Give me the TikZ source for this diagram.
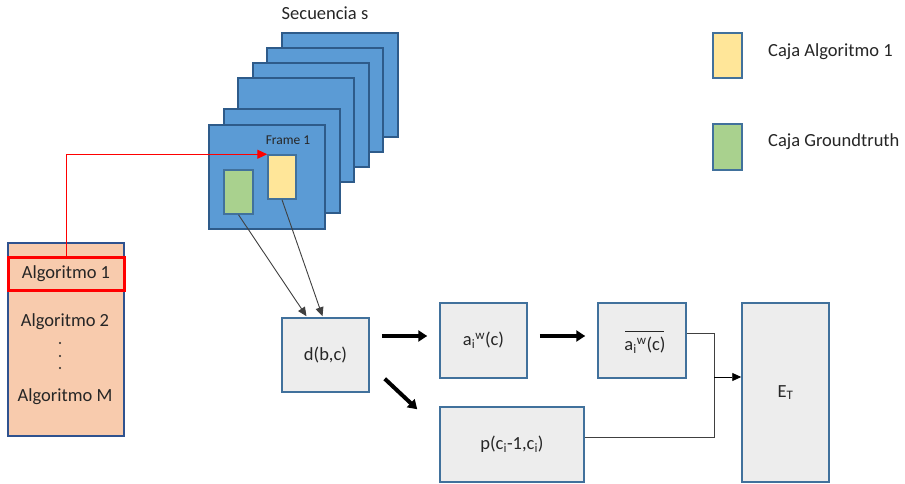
\documentclass[tikz,border=0pt]{standalone}
\usepackage{fontspec}
\setmainfont{Carlito}
\usetikzlibrary{arrows.meta,calc}
\definecolor{frameblue}{HTML}{5B9BD5}
\definecolor{frameedge}{HTML}{2E5B8A}
\definecolor{boxgray}{HTML}{EDEDED}
\definecolor{boxedge}{HTML}{41719C}
\definecolor{salmon}{HTML}{F8CBAD}
\definecolor{salmonedge}{HTML}{2F528F}
\definecolor{yel}{HTML}{FFE699}
\definecolor{grn}{HTML}{A9D18E}
\definecolor{txt}{HTML}{262626}
\tikzset{
  txtfont/.style={font=\fontsize{18.5}{21}\selectfont, text=txt},
  framebox/.style={draw=frameedge, fill=frameblue, line width=1.5pt, minimum width=116, minimum height=104, inner sep=0},
  graybox/.style={draw=boxedge, fill=boxgray, line width=1.5pt, inner sep=0, txtfont},
  smallbox/.style={draw=boxedge, line width=1.5pt, inner sep=0},
  bigarrow/.style={line width=4pt, -{Triangle[length=9pt,width=11pt]}, shorten <=12pt, shorten >=12pt},
  thinarrow/.style={draw=black!75, line width=0.9pt, -{Triangle[length=9pt,width=8pt]}},
  joinline/.style={draw=black!75, line width=0.9pt},
  listdot/.style={circle, fill=txt, inner sep=0, minimum size=2.2pt}
}
\begin{document}
\begin{tikzpicture}[x=1pt,y=-1pt]
\useasboundingbox[fill=white] (0,0) rectangle (905,484);

% frames (back to front)
\node[framebox] (f6) at (340,85) {};
\node[framebox] (f5) at (325,100) {};
\node[framebox] (f4) at (311,115) {};
\node[framebox] (f3) at (296,130) {};
\node[framebox] (f2) at (282,161) {};
\node[framebox] (f1) at (267,177) {};
\node[txtfont] (seq) at (325,13) {Secuencia s};
\node[font=\fontsize{13.5}{15}\selectfont, text=txt] (fr1) at (288,140) {Frame 1};
\node[smallbox, fill=yel, minimum width=28, minimum height=44] (ybox) at (282,177) {};
\node[smallbox, fill=grn, minimum width=29, minimum height=44] (gbox) at (238.5,192) {};

% left list
\node[draw=salmonedge, fill=salmon, line width=1.3pt, minimum width=116, minimum height=193, inner sep=0] (list) at (66,339.5) {};
\node[draw=red, line width=3pt, minimum width=116, minimum height=33, inner sep=0, txtfont] (alg1) at (66,273.5) {Algoritmo 1};
\node[txtfont] (alg2) at (65,322) {Algoritmo 2};
\node[listdot] (d1) at (60,343) {};
\node[listdot] (d2) at (60,356) {};
\node[listdot] (d3) at (60,368) {};
\node[txtfont] (algM) at (65,397) {Algoritmo M};

% red connector
\draw[red, line width=1pt, -{Triangle[length=10pt,width=9pt]}] (alg1.north) |- (ybox.north west);

% legend
\node[smallbox, fill=yel, minimum width=29, minimum height=45] (ly) at (727.5,55.5) {};
\node[txtfont, anchor=west, inner sep=0] (lyt) at (768,52) {Caja Algoritmo 1};
\node[smallbox, fill=grn, minimum width=29, minimum height=46] (lg) at (727.5,147) {};
\node[txtfont, anchor=west, inner sep=0] (lgt) at (768,142) {Caja Groundtruth};

% process boxes
\node[graybox, minimum width=87, minimum height=74] (d) at (325.5,355) {d(b,c)};
\node[graybox, minimum width=87, minimum height=75] (a) at (483.5,340.5) {a\textsubscript{i}\textsuperscript{w}(c)};
\node[graybox, minimum width=88, minimum height=75] (abar) at (642,340.5) {};
\node[txtfont, inner sep=0] (abart) at (645,345) {a\textsubscript{i}\textsuperscript{w}(c)};
\draw[txt, line width=0.9pt] ($(abar.center)+(-17,-9.5)$) -- ++(39,0);
\node[graybox, minimum width=144, minimum height=75] (p) at (512,444.5) {p(c\textsubscript{i}-1,c\textsubscript{i})};
\node[graybox, minimum width=87, minimum height=179] (E) at (785.5,392.5) {E\textsubscript{T}};

% connectors from boxes to d
\draw[thinarrow] (gbox.south) -- ($(d.north)+(-19,-1)$);
\draw[thinarrow] (ybox.south) -- ($(d.north)+(-3,-1)$);

% thick arrows
\draw[bigarrow] ($(d.east|-a.west)+(0,-4.5)$) -- ($(a.west)+(0,-4.5)$);
\draw[bigarrow] ($(a.east)+(0,-4.5)$) -- ($(abar.west)+(0,-4.5)$);
\draw[line width=4pt, -{Triangle[length=9pt,width=11pt]}] ($(d.south east)+(15,-14)$) -- ($(p.north west)+(-22,3)$);

% join to E
\coordinate (j) at (714,377);
\draw[joinline] ($(abar.east)+(0,-7.5)$) -| (j);
\draw[joinline] ($(p.east)+(0,-7.5)$) -| (j);
\draw[line width=0.9pt, -{Triangle[length=9pt,width=8pt]}] (j) -- (E.west|-j);
\end{tikzpicture}
\end{document}
